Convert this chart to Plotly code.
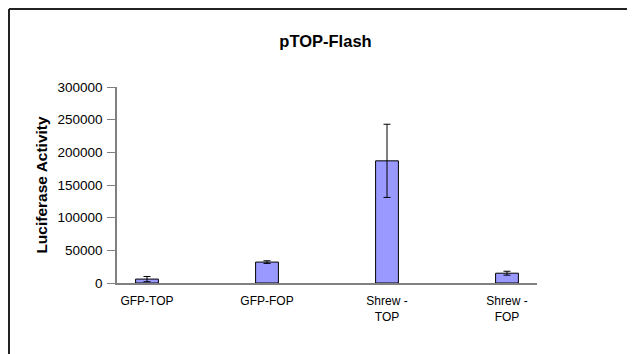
import plotly.graph_objects as go

categories = ["GFP-TOP", "GFP-FOP", "Shrew - TOP", "Shrew - FOP"]
tick_labels = ["GFP-TOP", "GFP-FOP", "Shrew -<br>TOP", "Shrew -<br>FOP"]
values = [6000, 32000, 187000, 15000]
errors = [4000, 2000, 56000, 3000]
y_ticks = [0, 50000, 100000, 150000, 200000, 250000, 300000]

# page body has an 8px default margin; figure coordinates are offset by it
W, H = 627, 346
L, R, T, B = 109, 98, 79, 71

fig = go.Figure()
fig.add_trace(go.Bar(
    x=categories,
    y=values,
    error_y=dict(type="data", array=errors, visible=True, color="black",
                 thickness=1, width=3.5),
    marker=dict(color="#9999FF", line=dict(color="black", width=1)),
))

pw = W - L - R
ph = H - T - B
fx0 = (1 - L) / pw
fy0 = (H - B - 1) / ph

fig.update_layout(
    width=W, height=H,
    margin=dict(l=L, r=R, t=T, b=B),
    paper_bgcolor="white",
    plot_bgcolor="white",
    showlegend=False,
    bargap=0.81,
    font=dict(family="Liberation Sans, Arial, sans-serif", color="black"),
    title=dict(text="<b>pTOP-Flash</b>", x=(317.5 - L) / pw, xref="paper",
               xanchor="center", y=1 - 33 / H, yref="container",
               yanchor="middle", font=dict(size=16.5, color="black")),
    xaxis=dict(
        type="category",
        range=[-0.25, 3.25],
        tickmode="array",
        tickvals=categories,
        ticktext=tick_labels,
        showline=True, linecolor="#808080", linewidth=1.5,
        ticks="", showgrid=False, zeroline=False,
        ticklabelstandoff=6,
        tickfont=dict(size=12),
    ),
    yaxis=dict(
        range=[0, 300000],
        tickmode="array",
        tickvals=y_ticks,
        ticktext=[str(v) for v in y_ticks],
        showline=True, linecolor="#808080", linewidth=1.5,
        ticks="outside", ticklen=8, tickcolor="#808080", tickwidth=1,
        showgrid=False, zeroline=False,
        ticklabelstandoff=2,
        tickfont=dict(size=13.5),
        title=dict(text="<b>Luciferase Activity</b>", font=dict(size=15.5),
                   standoff=6),
    ),
    shapes=[
        dict(type="line", xref="paper", yref="paper", x0=fx0, x1=2.0,
             y0=fy0, y1=fy0, line=dict(color="#222222", width=2)),
        dict(type="line", xref="paper", yref="paper", x0=fx0, x1=fx0,
             y0=fy0, y1=-2.0, line=dict(color="#222222", width=2)),
    ],
)

fig.write_html("out.html")
